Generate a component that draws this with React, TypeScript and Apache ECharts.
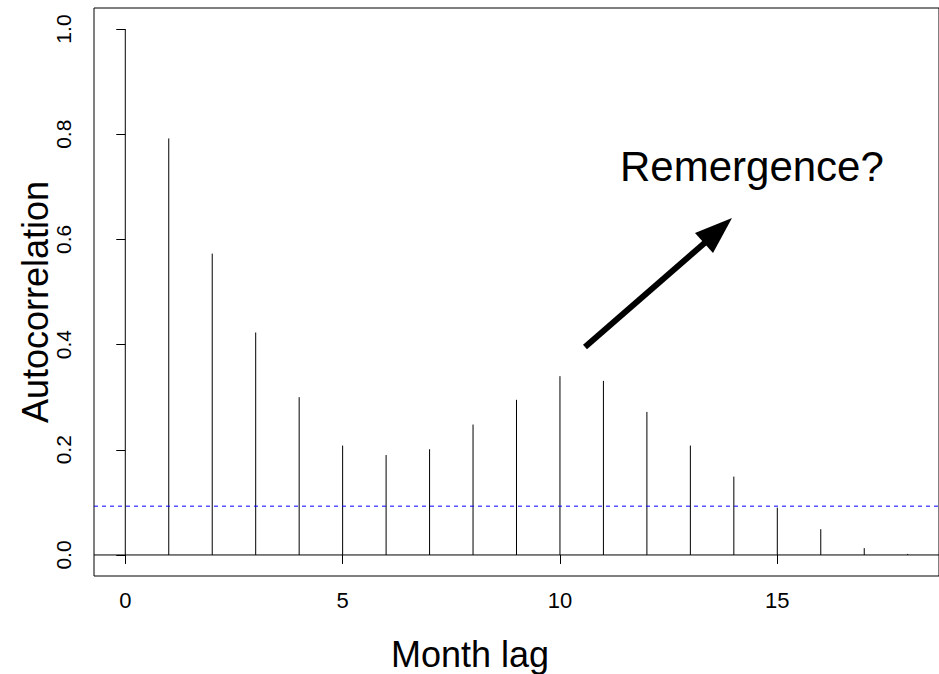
import React, { useEffect, useRef } from "react";
import * as echarts from "echarts";

// Sample autocorrelation by month lag
const lags = [0, 1, 2, 3, 4, 5, 6, 7, 8, 9, 10, 11, 12, 13, 14, 15, 16, 17, 18];
const acfValues = [
  1.0, 0.792, 0.573, 0.423, 0.3, 0.208, 0.19, 0.201, 0.248, 0.295, 0.34, 0.331,
  0.272, 0.208, 0.149, 0.09, 0.049, 0.013, 0.002,
];
// Upper 95% significance bound
const ciBound = 0.0928;

const xTicks = [0, 5, 10, 15];
const yTicks = [0, 0.2, 0.4, 0.6, 0.8, 1.0];

const X_MIN = -0.72;
const X_MAX = 18.72;

const FONT = "'Liberation Sans', Arial, Helvetica, sans-serif";

export default function App() {
  const ref = useRef<HTMLDivElement>(null);

  useEffect(() => {
    if (!ref.current) return;
    const chart = echarts.init(ref.current, null, { renderer: "svg" });

    const data = lags.map((l, i) => [l, acfValues[i]]);

    chart.setOption({
      animation: false,
      backgroundColor: "#ffffff",
      grid: {
        left: 94,
        top: 8,
        right: -8,
        bottom: 98,
        show: true,
        borderColor: "#000000",
        borderWidth: 1,
        backgroundColor: "transparent",
      },
      xAxis: {
        type: "value",
        min: X_MIN,
        max: X_MAX,
        axisLine: { show: false },
        splitLine: { show: false },
        axisTick: {
          show: true,
          length: 9,
          customValues: xTicks,
          lineStyle: { color: "#000000", width: 1 },
        },
        axisLabel: {
          customValues: xTicks,
          fontSize: 22,
          margin: 13,
          color: "#000000",
          fontFamily: FONT,
        },
      },
      yAxis: {
        type: "value",
        min: -0.04,
        max: 1.04,
        axisLine: { show: false },
        splitLine: { show: false },
        axisTick: {
          show: true,
          length: 9,
          customValues: yTicks,
          lineStyle: { color: "#000000", width: 1 },
        },
        axisLabel: {
          customValues: yTicks,
          rotate: 90,
          fontSize: 21,
          margin: 20,
          color: "#000000",
          fontFamily: FONT,
          formatter: (v: number) => v.toFixed(1),
        },
      },
      series: [
        {
          // zero reference line
          type: "line",
          data: [
            [X_MIN, 0],
            [X_MAX, 0],
          ],
          symbol: "none",
          silent: true,
          lineStyle: { color: "#000000", width: 1, type: "solid" },
        },
        {
          // significance bound
          type: "line",
          data: [
            [X_MIN, ciBound],
            [X_MAX, ciBound],
          ],
          symbol: "none",
          silent: true,
          lineStyle: { color: "#0000ff", width: 1, type: [4, 4] },
        },
        {
          type: "custom",
          data,
          renderItem: (params: any, api: any) => {
            const x = api.value(0);
            const y = api.value(1);
            const p0 = api.coord([x, 0]);
            const p1 = api.coord([x, y]);
            return {
              type: "line",
              shape: { x1: p0[0], y1: p0[1], x2: p1[0], y2: p1[1] },
              style: { stroke: "#000000", lineWidth: 1 },
            };
          },
        },
      ],
      graphic: [
        {
          type: "text",
          x: 35,
          y: 302,
          rotation: Math.PI / 2,
          style: {
            text: "Autocorrelation",
            fontSize: 36,
            fontFamily: FONT,
            fill: "#000000",
            align: "center",
            verticalAlign: "middle",
          },
        },
        {
          type: "text",
          x: 470,
          y: 654,
          style: {
            text: "Month lag",
            fontSize: 36,
            fontFamily: FONT,
            fill: "#000000",
            align: "center",
            verticalAlign: "middle",
          },
        },
        {
          type: "text",
          x: 620,
          y: 166,
          style: {
            text: "Remergence?",
            fontSize: 42,
            fontFamily: FONT,
            fill: "#000000",
            align: "left",
            verticalAlign: "middle",
          },
        },
        {
          type: "line",
          shape: { x1: 585, y1: 347, x2: 708, y2: 240 },
          style: { stroke: "#000000", lineWidth: 6 },
        },
        {
          type: "polygon",
          shape: {
            points: [
              [732, 218],
              [695, 233],
              [713, 253],
            ],
          },
          style: { fill: "#000000" },
        },
      ],
    });

    return () => chart.dispose();
  }, []);

  return (
    <div
      ref={ref}
      style={{ position: "absolute", left: 0, top: 0, width: 939, height: 674 }}
    />
  );
}
